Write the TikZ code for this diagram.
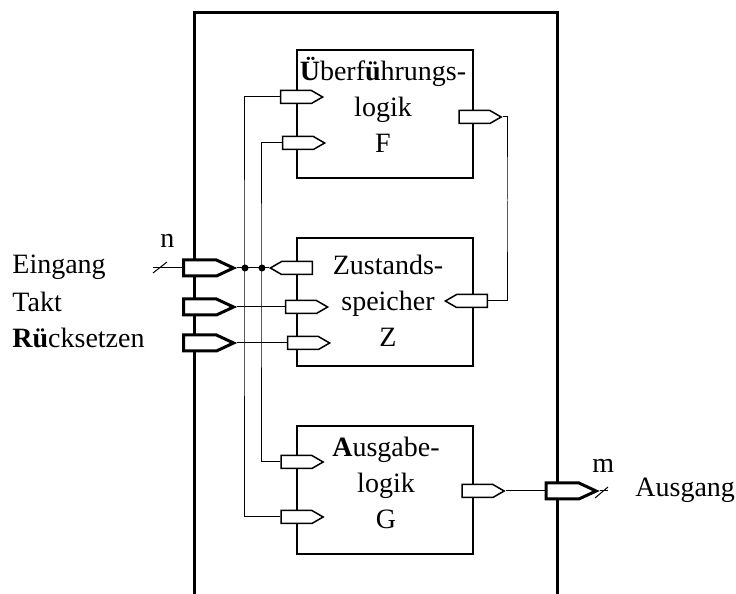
\documentclass[tikz,border=0pt]{standalone}
\usepackage{fontspec}
\setmainfont{Liberation Serif}
\usetikzlibrary{shapes.symbols}

\begin{document}
\begin{tikzpicture}[
    x=0.5pt, y=-0.5pt,
    every node/.style={font=\fontsize{14}{18}\selectfont},
    block/.style={draw, line width=1pt, minimum width=88pt, minimum height=64pt, inner sep=0pt},
    port/.style={signal, signal pointer angle=60, draw, fill=white, line width=0.75pt,
        minimum width=21pt, minimum height=6.5pt, inner sep=0pt},
    portin/.style={port, signal to=east},
    portout/.style={port, signal to=west},
    extport/.style={signal, signal to=east, signal pointer angle=50, draw, fill=white,
        line width=1.5pt, minimum width=25pt, minimum height=8pt, inner sep=0pt},
    wire/.style={line width=0.5pt},
    dot/.style={circle, fill, inner sep=0pt, minimum size=3.5pt},
    label/.style={anchor=base west, inner sep=0pt},
]

\useasboundingbox (0,0) rectangle (736,594);

% Parameters
\def\xleft{195}
\def\xright{558}
\def\ytop{12.7}

% === Outer frame (open at the bottom) ===
\draw[line width=1.5pt] (\xleft,594) -- (\xleft,\ytop) -- (\xright,\ytop) -- (\xright,594);

% === Blocks ===
\node[block] (F) at (385,114) {};
\node[block] (Z) at (385,302.5) {};
\node[block] (G) at (385,490.5) {};

\node[anchor=north, align=center, inner sep=0pt] (Ftext) at (383,57)
    {\textbf{Ü}berf\textbf{ü}hrungs-\\logik\\F};
\node[anchor=north, align=center, inner sep=0pt] (Ztext) at (388,255)
    {Zustands-\\speicher\\Z};
\node[anchor=north, align=center, inner sep=0pt] (Gtext) at (386,437)
    {\textbf{A}usgabe-\\logik\\G};

% === Block ports ===
\node[portin]  (Fin1) at (296,97)  {};
\node[portin]  (Fin2) at (298,143) {};
\node[portin]  (Fout) at (474.5,117) {};
\node[portout] (Zout) at (297,268) {};
\node[portin]  (Zclk) at (301,307) {};
\node[portin]  (Zrst) at (303,343) {};
\node[portout] (Zin)  at (472,301) {};
\node[portin]  (Gin1) at (296.5,462) {};
\node[portin]  (Gin2) at (296.5,517) {};
\node[portin]  (Gout) at (477.5,491) {};

% === External ports ===
\node[extport] (ein) at (200,268) {};
\node[extport] (clk) at (200,307) {};
\node[extport] (rst) at (200,343) {};
\node[extport] (aus) at (562.5,491) {};

% Junctions and free ends
\coordinate (j1) at (245,268);
\coordinate (j2) at (262,268);
\coordinate (fb) at (508,200);
\coordinate (einend) at (153,268);
\coordinate (ausend) at (608,491);

% === Wires ===
\draw[wire] (ein.east) -- (Zout.west);
\draw[wire] (Fin1.west) -| (j1) |- (Gin2.west);
\draw[wire] (Fin2.west) -| (j2) |- (Gin1.west);
\draw[wire] (clk.east) -- (Zclk.west);
\draw[wire] (rst.east) -- (Zrst.west);
\draw[wire] (Fout.east) -| (fb) |- (Zin.east);
\draw[wire] (Gout.east) -- (aus.west);
\draw[wire] (einend) -- (ein.west);
\draw[wire] (aus.east) -- (ausend);
\node[dot] at (j1) {};
\node[dot] at (j2) {};

% Bus width marks
\draw[wire] (153,273) -- (167,262);
\draw[wire] (595,498) -- (608,487);

% === Labels ===
\node[label] (lein) at (12,273) {Eingang};
\node[label] (lclk) at (12,312) {Takt};
\node[label] (lrst) at (12,348) {\textbf{Rü}cksetzen};
\node[label] (ln)   at (160,248) {n};
\node[label] (lm)   at (592,473) {m};
\node[label] (laus) at (635,496) {Ausgang};

\end{tikzpicture}
\end{document}
